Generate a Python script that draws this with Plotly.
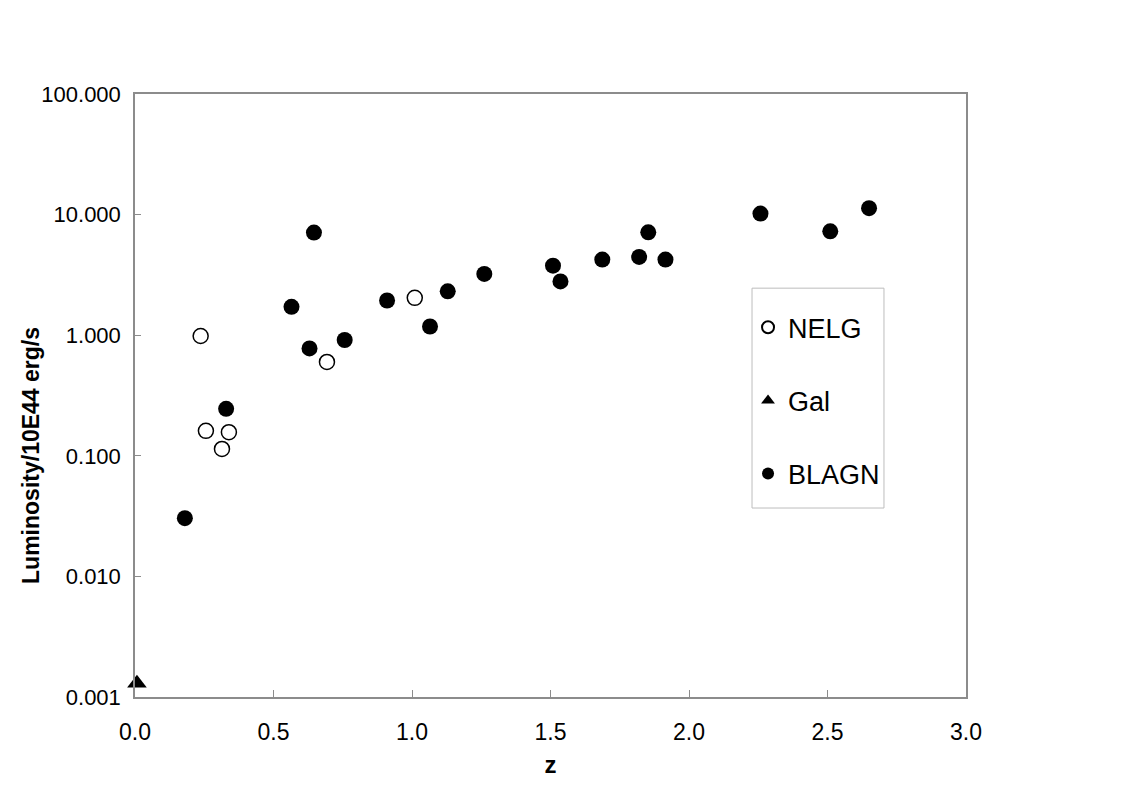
import plotly.graph_objects as go

# redshift / luminosity (units of 1E44 erg/s)
nelg_z = [0.237, 0.256, 0.339, 0.314, 0.693, 1.010]
nelg_lum = [0.985, 0.161, 0.157, 0.114, 0.60, 2.04]

gal_z = [0.007]
gal_lum = [0.0013]

blagn_z = [0.180, 0.329, 0.565, 0.646, 0.630, 0.757, 0.910, 1.065, 1.129, 1.261,
           1.509, 1.536, 1.687, 1.820, 1.853, 1.915, 2.258, 2.510, 2.650]
blagn_lum = [0.0304, 0.245, 1.72, 7.09, 0.777, 0.912, 1.94, 1.18, 2.31, 3.22,
             3.77, 2.79, 4.24, 4.46, 7.13, 4.24, 10.2, 7.27, 11.3]

fig = go.Figure()

fig.add_trace(go.Scatter(
    x=nelg_z, y=nelg_lum, mode='markers', name='NELG', legendgroup='a',
    marker=dict(symbol='circle', size=15, color='white',
                line=dict(color='black', width=1.5))
))
fig.add_trace(go.Scatter(
    x=gal_z, y=gal_lum, mode='markers', name='Gal', legendgroup='b',
    cliponaxis=False,
    marker=dict(symbol='triangle-up', size=17, color='black')
))
fig.add_trace(go.Scatter(
    x=blagn_z, y=blagn_lum, mode='markers', name='BLAGN', legendgroup='c',
    marker=dict(symbol='circle', size=16, color='black')
))

axis_col = '#8c8c8c'

# legend frame drawn as a shape so it can be sized like the original
fig.add_shape(type='rect', xref='paper', yref='paper',
              x0=0.7425, x1=0.9013, y0=0.3134, y1=0.678,
              line=dict(color='#bdbdbd', width=1), fillcolor='white', layer='below')

# y title as annotation (sits independently of the tick labels, like the original)
fig.add_annotation(
    text='<b>Luminosity/10E44 erg/s</b>', textangle=-90,
    xref='paper', yref='paper', x=-0.125, y=0.40,
    xanchor='center', yanchor='middle', showarrow=False,
    font=dict(size=23)
)

fig.update_layout(
    width=1126, height=784,
    margin=dict(l=127, r=168, t=86, b=95),
    paper_bgcolor='white', plot_bgcolor='rgba(0,0,0,0)',
    font=dict(family='Liberation Sans, Arial, sans-serif', color='black', size=20),
    xaxis=dict(
        range=[0, 3], dtick=0.5, tickformat='.1f',
        showgrid=False, zeroline=False,
        showline=True, linecolor=axis_col, linewidth=1.5, mirror=True,
        ticks='inside', ticklen=7, tickcolor=axis_col,
        ticklabelstandoff=14,
        title=dict(text='<b>z</b>', font=dict(size=24), standoff=12),
        tickfont=dict(size=23)
    ),
    yaxis=dict(
        type='log', range=[-3, 2], dtick=1, tickformat='.3f',
        showgrid=False, zeroline=False,
        showline=True, linecolor=axis_col, linewidth=1.5, mirror=True,
        ticks='inside', ticklen=6, tickcolor=axis_col,
        ticklabelstandoff=8,
        tickfont=dict(size=22)
    ),
    legend=dict(
        x=0.7377, y=0.653, xanchor='left', yanchor='top',
        bgcolor='rgba(0,0,0,0)', borderwidth=0,
        font=dict(size=27), traceorder='grouped', tracegroupgap=35,
        itemsizing='constant'
    )
)

fig.write_html("out.html")
